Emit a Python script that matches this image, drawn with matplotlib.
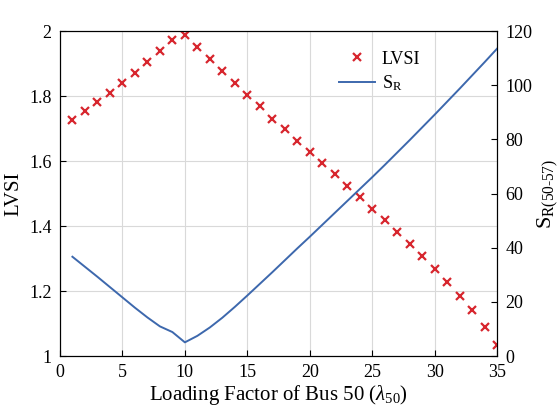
import matplotlib.pyplot as plt
import numpy as np

plt.rcParams['font.family'] = ['Liberation Serif', 'DejaVu Serif']
plt.rcParams['mathtext.fontset'] = 'custom'
plt.rcParams['mathtext.rm'] = 'Liberation Serif'
plt.rcParams['mathtext.it'] = 'Liberation Serif:italic'

lam = list(range(1, 36))
lvsi = [1.726, 1.754, 1.782, 1.809, 1.840, 1.871, 1.905, 1.938, 1.974, 1.988,
        1.951, 1.914, 1.877, 1.840, 1.803, 1.768, 1.731, 1.698, 1.662, 1.627,
        1.593, 1.559, 1.524, 1.490, 1.452, 1.418, 1.381, 1.345, 1.308, 1.268,
        1.227, 1.185, 1.142, 1.089, 1.034]
s_r = [36.7, 33.0, 29.3, 25.5, 21.7, 17.9, 14.3, 11.0, 8.9, 5.1,
       7.5, 10.6, 14.2, 18.2, 22.4, 26.7, 31.0, 35.4, 39.8, 44.1,
       48.5, 52.9, 57.3, 61.7, 66.1, 70.6, 75.2, 79.8, 84.5, 89.2,
       94.0, 98.8, 103.7, 108.6, 113.6]

fig = plt.figure(figsize=(5.6, 4.2), dpi=100)
ax = fig.add_axes([0.107, 0.152, 0.781, 0.774])
ax2 = ax.twinx()

red = '#d7262e'
blue = '#3d68ad'

p1, = ax.plot(lam, lvsi, 'x', color=red, markersize=6, markeredgewidth=1.6, label='LVSI')
p2, = ax2.plot(lam, s_r, '-', color=blue, linewidth=1.4, label='S$_\\mathrm{R}$')

ax.set_xlim(0, 35)
ax.set_ylim(1, 2)
ax2.set_ylim(0, 120)
ax.set_xticks(range(0, 36, 5))
ax.set_yticks([1, 1.2, 1.4, 1.6, 1.8, 2])
ax.set_yticklabels(['1', '1.2', '1.4', '1.6', '1.8', '2'])
ax2.set_yticks(range(0, 121, 20))

ax.grid(True, color='#d9d9d9', linewidth=0.8)
for a in (ax, ax2):
    a.tick_params(direction='in', labelsize=13, length=4, width=0.8, pad=6)
    for s in a.spines.values():
        s.set_linewidth(0.8)

ax.set_xlabel('Loading Factor of Bus 50 ($\\lambda_{50}$)', fontsize=15, labelpad=1)
ax.set_ylabel('LVSI', fontsize=15, labelpad=4)
ax2.set_ylabel('S$_\\mathrm{R(50\\text{-}57)}$', fontsize=16, labelpad=2)

ax2.legend([p1, p2], ['LVSI', 'S$_\\mathrm{R}$'], loc='upper left',
           bbox_to_anchor=(0.6, 0.99), frameon=False, fontsize=13,
           handlelength=2.0, handletextpad=0.4, labelspacing=0.3)

fig.savefig('out.png', dpi=100)
